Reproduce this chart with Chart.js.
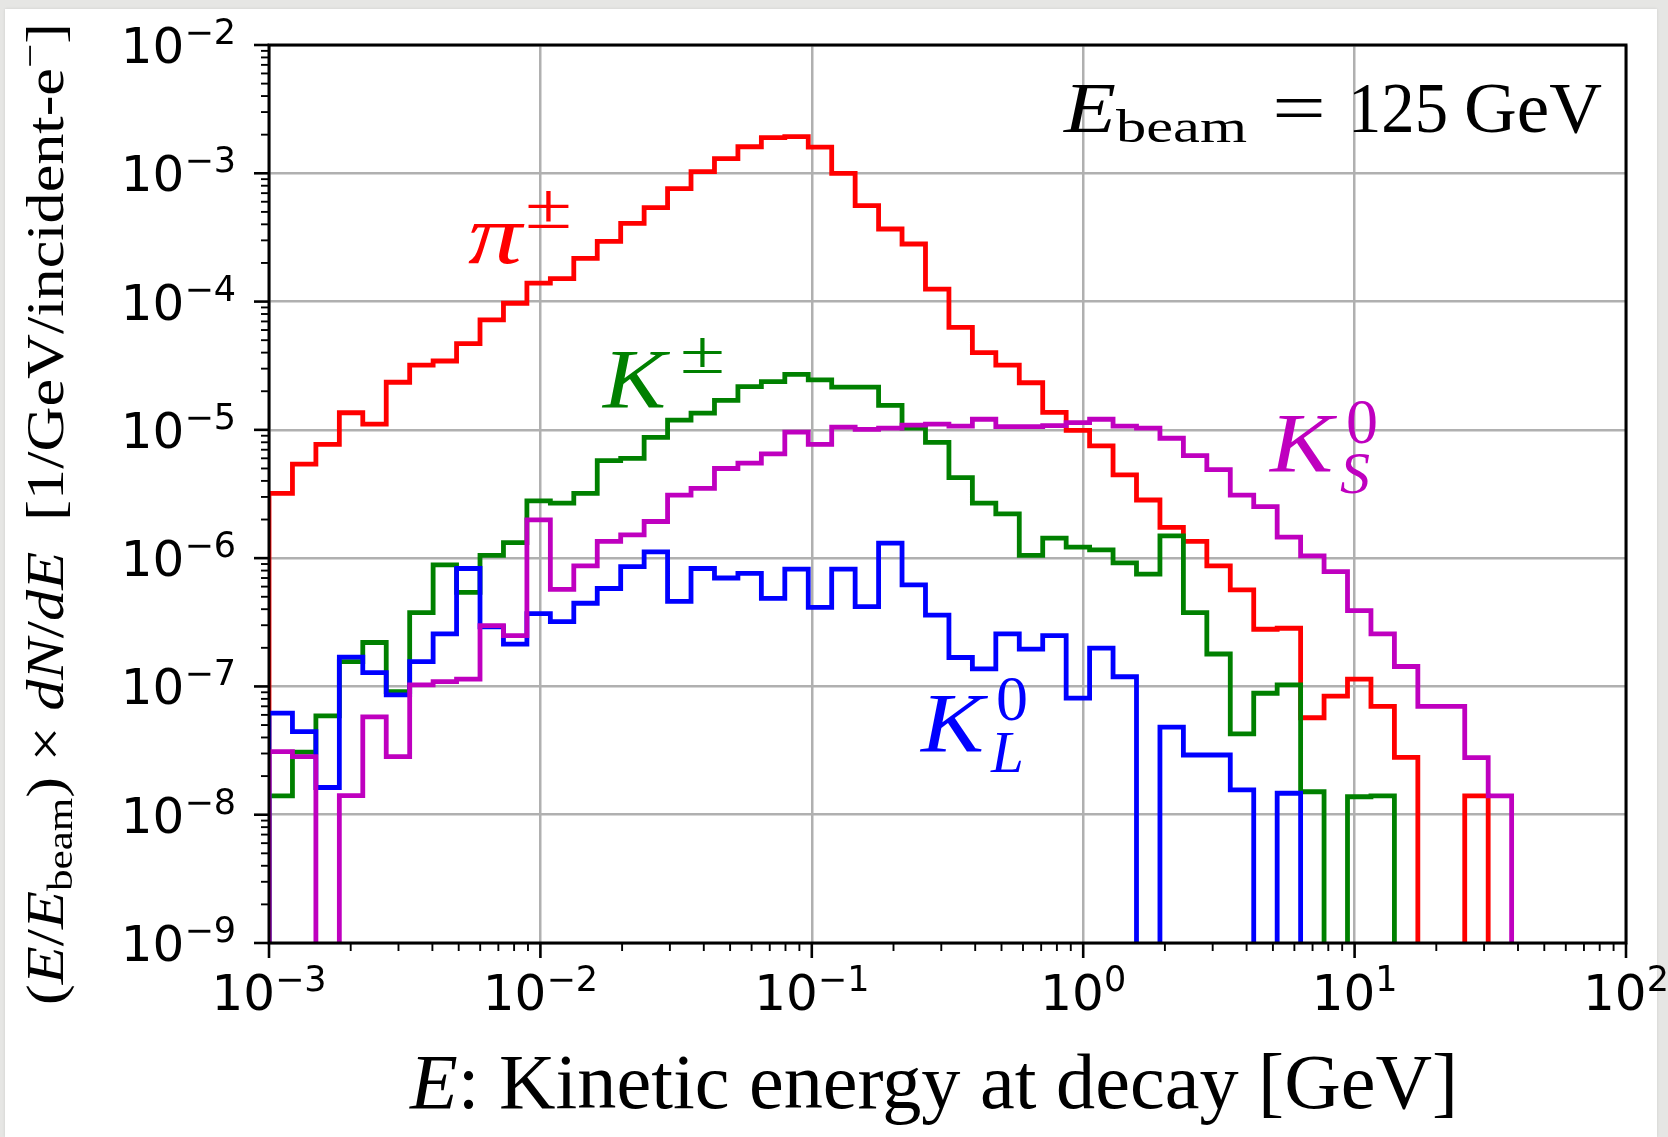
<!DOCTYPE html>
<html>
<head>
<meta charset="utf-8">
<title>Kinetic energy at decay</title>
<script src="https://cdn.jsdelivr.net/npm/chart.js@4.4.1/dist/chart.umd.min.js"></script>
<style>
  html, body { margin: 0; padding: 0; }
  body { width: 1668px; height: 1137px; background: #e6e6e4; overflow: hidden; position: relative; }
  #sheet { position: absolute; left: 5px; top: 9px; width: 1652px; height: 1128px; background: #fff; box-shadow: 0 0 3px rgba(0,0,0,0.10); }
  #wrap { position: absolute; left: 0; top: 0; width: 1668px; height: 1137px; }
</style>
</head>
<body>
<div id="sheet"></div>
<div id="wrap"><canvas id="decaySpectrum"></canvas></div>
<script>
// binning: log-spaced bins from 1 MeV up to the beam energy
const E_MIN = 1e-3;
const E_BEAM = 125;
const N_BINS = 59;

// (E/Ebeam) dN/dE per bin, 0 = empty bin
const piCharged = [
  3.2e-6, 5.4e-6, 7.7e-6, 1.36e-5, 1.11e-5, 2.35e-5, 3.2e-5, 3.44e-5, 4.7e-5, 7.2e-5,
  9.7e-5, 1.39e-4, 1.51e-4, 2.17e-4, 2.95e-4, 4.07e-4, 5.4e-4, 7.6e-4, 1.03e-3, 1.30e-3,
  1.61e-3, 1.90e-3, 1.93e-3, 1.60e-3, 1.0e-3, 5.6e-4, 3.68e-4, 2.81e-4, 1.25e-4, 6.3e-5,
  4.0e-5, 3.2e-5, 2.33e-5, 1.37e-5, 9.9e-6, 7.5e-6, 4.45e-6, 2.84e-6, 1.74e-6, 1.35e-6,
  8.7e-7, 5.65e-7, 2.79e-7, 2.84e-7, 5.7e-8, 8.4e-8, 1.14e-7, 7.0e-8, 2.8e-8, 0,
  0, 1.40e-8, 0, 0, 0, 0, 0, 0, 0
];
const kCharged = [
  1.40e-8, 3.07e-8, 5.9e-8, 1.56e-7, 2.2e-7, 9.1e-8, 3.76e-7, 8.85e-7, 5.4e-7, 1.05e-6,
  1.32e-6, 2.8e-6, 2.68e-6, 3.2e-6, 5.75e-6, 6.0e-6, 8.75e-6, 1.19e-5, 1.35e-5, 1.70e-5,
  2.17e-5, 2.38e-5, 2.71e-5, 2.45e-5, 2.15e-5, 2.15e-5, 1.55e-5, 1.03e-5, 8.0e-6, 4.24e-6,
  2.68e-6, 2.21e-6, 1.05e-6, 1.43e-6, 1.22e-6, 1.16e-6, 9.2e-7, 7.5e-7, 1.49e-6, 3.76e-7,
  1.79e-7, 4.27e-8, 8.85e-8, 1.03e-7, 1.51e-8, 0, 1.38e-8, 1.40e-8, 0, 0,
  0, 0, 0, 0, 0, 0, 0, 0, 0
];
const kShort = [
  3.1e-8, 2.84e-8, 0, 1.41e-8, 5.8e-8, 2.84e-8, 1.03e-7, 1.09e-7, 1.14e-7, 2.98e-7,
  2.49e-7, 1.99e-6, 5.7e-7, 8.7e-7, 1.35e-6, 1.52e-6, 1.93e-6, 3.1e-6, 3.5e-6, 5.0e-6,
  5.5e-6, 6.5e-6, 9.6e-6, 7.7e-6, 1.05e-5, 1.01e-5, 1.03e-5, 1.09e-5, 1.11e-5, 1.07e-5,
  1.21e-5, 1.06e-5, 1.06e-5, 1.08e-5, 1.14e-5, 1.21e-5, 1.07e-5, 1.03e-5, 8.6e-6, 6.3e-6,
  4.9e-6, 3.1e-6, 2.52e-6, 1.46e-6, 1.04e-6, 7.85e-7, 3.9e-7, 2.57e-7, 1.43e-7, 7.0e-8,
  7.0e-8, 2.79e-8, 1.40e-8, 0, 0, 0, 0, 0, 0
];
const kLong = [
  6.2e-8, 4.45e-8, 1.63e-8, 1.69e-7, 1.28e-7, 8.6e-8, 1.56e-7, 2.57e-7, 8.3e-7, 2.92e-7,
  2.14e-7, 3.7e-7, 3.2e-7, 4.45e-7, 5.8e-7, 8.6e-7, 1.12e-6, 4.6e-7, 8.3e-7, 7.0e-7,
  7.6e-7, 4.86e-7, 8.2e-7, 4.14e-7, 8.2e-7, 4.19e-7, 1.31e-6, 6.2e-7, 3.6e-7, 1.68e-7,
  1.37e-7, 2.57e-7, 1.95e-7, 2.49e-7, 8.1e-8, 1.99e-7, 1.19e-7, 0, 4.81e-8, 2.92e-8,
  2.92e-8, 1.56e-8, 0, 1.47e-8, 0, 0, 0, 0, 0, 0,
  0, 0, 0, 0, 0, 0, 0, 0, 0
];

// axis decades and minor tick multipliers
const X_DECADES = [1e-3, 1e-2, 1e-1, 1, 10, 100];
const Y_DECADES = [1e-9, 1e-8, 1e-7, 1e-6, 1e-5, 1e-4, 1e-3, 1e-2];
const MINOR_STEPS = [2, 3, 4, 5, 6, 7, 8, 9];

// empty bins fall off the bottom of the log axis
const FLOOR = 1e-12;

const edges = [];
for (let k = 0; k <= N_BINS; k++) edges.push(E_MIN * Math.pow(E_BEAM / E_MIN, k / N_BINS));

// outline of a step histogram: up from the floor, across each bin, back down
function stepPoints(values) {
  const pts = [{ x: edges[0], y: FLOOR }];
  values.forEach((v, k) => {
    const y = v > 0 ? v : FLOOR;
    pts.push({ x: edges[k], y }, { x: edges[k + 1], y });
  });
  pts.push({ x: edges[N_BINS], y: FLOOR });
  return pts;
}

function histDataset(label, values, color, order) {
  return {
    label, data: stepPoints(values), borderColor: color, borderWidth: 4.8,
    borderJoinStyle: 'miter', pointRadius: 0, fill: false, tension: 0, order
  };
}

const RED = '#ff0000', GREEN = '#008000', BLUE = '#0000ff', MAGENTA = '#bf00bf';
const R = (px) => `${px}px "Liberation Serif"`;
const I = (px) => `italic ${px}px "Liberation Serif"`;

function powerLabel(ctx, v, x, baseline, align) {
  const exp = String(Math.round(Math.log10(v))).replace('-', '\u2212');
  ctx.font = '50px "DejaVu Sans"';
  const wb = ctx.measureText('10').width;
  ctx.font = '35px "DejaVu Sans"';
  const we = ctx.measureText(exp).width;
  const x0 = align === 'right' ? x - wb - we : x - (wb + we) / 2;
  ctx.font = '50px "DejaVu Sans"';
  ctx.fillText('10', x0, baseline);
  ctx.font = '35px "DejaVu Sans"';
  ctx.fillText(exp, x0 + wb, baseline - 19);
}

// squeeze or stretch a run of text pieces to span x0..x1
function drawParts(ctx, parts, x0, x1, baseline) {
  let w = 0;
  parts.forEach(p => { ctx.font = p.font; p.w = ctx.measureText(p.text).width; w += p.w; });
  ctx.save();
  ctx.translate(x0, baseline);
  ctx.scale((x1 - x0) / w, 1);
  let cx = 0;
  parts.forEach(p => { ctx.font = p.font; ctx.fillText(p.text, cx, p.dy || 0); cx += p.w; });
  ctx.restore();
}

function fitText(ctx, text, font, x0, x1, baseline) {
  drawParts(ctx, [{ text, font }], x0, x1, baseline);
}

const axesFrame = {
  id: 'axesFrame',
  afterDatasetsDraw(chart) {
    const { ctx, chartArea: a, scales: { x, y } } = chart;
    ctx.save();
    ctx.strokeStyle = '#000';
    ctx.lineCap = 'butt';
    const seg = (x1, y1, x2, y2, w) => {
      ctx.lineWidth = w; ctx.beginPath(); ctx.moveTo(x1, y1); ctx.lineTo(x2, y2); ctx.stroke();
    };
    X_DECADES.forEach((d, i) => {
      const px = x.getPixelForValue(d);
      seg(px, a.bottom, px, a.bottom + 15, 2.6);
      if (i < X_DECADES.length - 1) MINOR_STEPS.forEach(m => {
        const mx = x.getPixelForValue(d * m);
        seg(mx, a.bottom, mx, a.bottom + 8, 1.9);
      });
    });
    Y_DECADES.forEach((d, i) => {
      const py = y.getPixelForValue(d);
      seg(a.left - 15, py, a.left, py, 2.6);
      if (i < Y_DECADES.length - 1) MINOR_STEPS.forEach(m => {
        const my = y.getPixelForValue(d * m);
        seg(a.left - 8, my, a.left, my, 1.9);
      });
    });
    ctx.lineWidth = 3;
    ctx.strokeRect(a.left, a.top, a.right - a.left, a.bottom - a.top);

    ctx.fillStyle = '#000';
    ctx.textAlign = 'left';
    ctx.textBaseline = 'alphabetic';
    X_DECADES.forEach(d => powerLabel(ctx, d, x.getPixelForValue(d), a.bottom + 67, 'center'));
    Y_DECADES.forEach(d => powerLabel(ctx, d, a.left - 33, y.getPixelForValue(d) + 18, 'right'));

    // axis titles
    drawParts(ctx, [
      { text: 'E', font: I(78) },
      { text: ': Kinetic energy at decay [GeV]', font: R(78) }
    ], 410, 1458, 1108);

    ctx.save();
    ctx.translate(63, 1005);
    ctx.rotate(-Math.PI / 2);
    drawParts(ctx, [
      { text: '(', font: R(52) }, { text: 'E', font: I(52) }, { text: '/', font: R(52) },
      { text: 'E', font: I(52) }, { text: 'beam', font: R(36), dy: 9 }, { text: ')', font: R(52) },
      { text: ' \u00d7 ', font: R(52) }, { text: 'dN', font: I(52) }, { text: '/', font: R(52) },
      { text: 'dE', font: I(52) }, { text: '  [1/GeV/incident-e', font: R(52) },
      { text: '\u2212', font: R(36), dy: -21 }, { text: ']', font: R(52) }
    ], 0, 982, 0);
    ctx.restore();

    // beam energy
    fitText(ctx, 'E', I(72), 1064, 1116, 132);
    fitText(ctx, 'beam', R(46), 1116, 1247, 142);
    fitText(ctx, '=', R(72), 1272, 1326, 132);
    fitText(ctx, '125', R(72), 1348, 1448, 132);
    fitText(ctx, 'GeV', R(72), 1464, 1602, 132);

    // particle labels
    ctx.fillStyle = RED;
    fitText(ctx, '\u03c0', I(84), 468, 522, 263);
    fitText(ctx, '\u00b1', R(66), 525, 572, 228);

    ctx.fillStyle = GREEN;
    fitText(ctx, 'K', I(84), 603, 666, 408);
    fitText(ctx, '\u00b1', R(62), 680, 725, 373);

    ctx.fillStyle = MAGENTA;
    fitText(ctx, 'K', I(84), 1270, 1333, 472);
    ctx.font = R(64); ctx.fillText('0', 1346, 443);
    ctx.font = I(60); ctx.fillText('S', 1340, 493);

    ctx.fillStyle = BLUE;
    fitText(ctx, 'K', I(84), 921, 984, 752);
    ctx.font = R(64); ctx.fillText('0', 996, 720);
    ctx.font = I(59); ctx.fillText('L', 991, 772);
    ctx.restore();
  }
};

const logAxis = (min, max, decades, fit) => ({
  type: 'logarithmic', min, max,
  afterBuildTicks: s => { s.ticks = decades.map(v => ({ value: v, major: true })); },
  afterFit: fit,
  ticks: { display: false },
  grid: { color: '#b0b0b0', lineWidth: 2.5, drawTicks: false },
  border: { display: false }
});

new Chart(document.getElementById('decaySpectrum'), {
  type: 'line',
  data: {
    datasets: [
      histDataset('K_S^0', kShort, MAGENTA, 0),
      histDataset('K_L^0', kLong, BLUE, 1),
      histDataset('K^±', kCharged, GREEN, 2),
      histDataset('π^±', piCharged, RED, 3)
    ]
  },
  options: {
    responsive: true,
    maintainAspectRatio: false,
    animation: false,
    events: [],
    layout: { padding: { top: 45, right: 42, left: 0, bottom: 0 } },
    plugins: { legend: { display: false }, tooltip: { enabled: false } },
    scales: {
      x: logAxis(1e-3, 1e2, X_DECADES, s => { s.height = 194; }),
      y: logAxis(1e-9, 1e-2, Y_DECADES, s => { s.width = 269; })
    }
  },
  plugins: [axesFrame]
});
</script>
</body>
</html>
